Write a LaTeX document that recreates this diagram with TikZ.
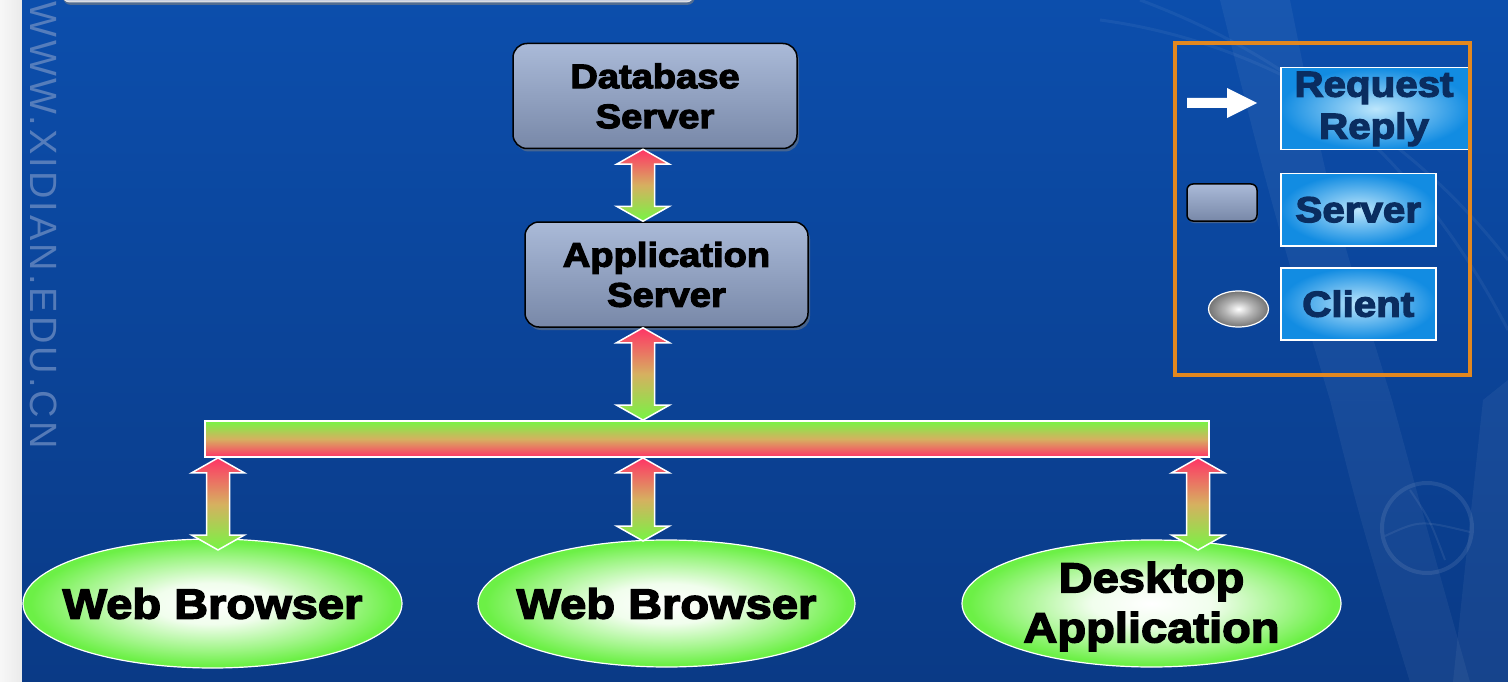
\documentclass[tikz,border=0pt]{standalone}
\usepackage{fontspec}
\setmainfont{Liberation Sans}
\newfontfamily\heavy{Liberation Sans Bold}[FakeBold=3.5,FakeStretch=1.12]
\usetikzlibrary{shapes.geometric,shadows,calc}

\definecolor{bgtop}{RGB}{12,78,172}
\definecolor{bgbot}{RGB}{10,58,134}
\definecolor{srvtop}{RGB}{170,186,216}
\definecolor{srvbot}{RGB}{120,136,168}
\definecolor{arrred}{RGB}{255,52,102}
\definecolor{arrgrn}{RGB}{118,245,68}
\definecolor{busmid}{RGB}{214,176,96}
\definecolor{cligreen}{RGB}{108,240,70}
\definecolor{legblue}{RGB}{18,140,226}
\definecolor{leglight}{RGB}{188,230,252}
\definecolor{legtext}{RGB}{10,45,96}
\definecolor{legorange}{RGB}{226,136,32}
\definecolor{wmark}{RGB}{110,142,195}
\definecolor{tabfill}{RGB}{200,208,226}

\pgfdeclareradialshading{clientglow}{\pgfpoint{0bp}{0bp}}{%
  color(0bp)=(white); color(8bp)=(white!90!cligreen);
  color(18bp)=(cligreen!65!white); color(24bp)=(cligreen); color(50bp)=(cligreen)}
\pgfdeclareradialshading{clientgray}{\pgfpoint{0bp}{0bp}}{%
  color(0bp)=(white); color(12bp)=(gray!60); color(25bp)=(gray!90!black); color(50bp)=(gray!90!black)}

\tikzset{
  server/.style={draw=black, line width=1.5pt, rounded corners=14pt,
    top color=srvtop, bottom color=srvbot,
    drop shadow={opacity=0.5, shadow xshift=2pt, shadow yshift=-3pt},
    inner sep=0pt, align=center, font=\heavy\fontsize{34}{40}\selectfont},
  client/.style={ellipse, draw=white, line width=1.2pt, shade, shading=clientglow, inner sep=0pt},
  clientlabel/.style={align=center, font=\heavy\fontsize{42}{50}\selectfont},
  busbar/.style={draw=white, line width=1.8pt, top color=arrgrn, bottom color=arrred,
    middle color=busmid, inner sep=0pt},
  linkarrow/.style={draw=white, line width=1.5pt, top color=arrred, bottom color=arrgrn,
    middle color=busmid},
  legendbox/.style={draw=white, line width=1.5pt, inner color=leglight, outer color=legblue,
    inner sep=0pt},
  legendtext/.style={text=legtext, align=center, font=\heavy\fontsize{36}{42}\selectfont},
  swoosh/.style={draw=white, opacity=0.05, line width=#1},
}

% double-headed connector between two points on a vertical line
\newcommand\linkarrow[2]{%
  \path[linkarrow] let \p1=(#1), \p2=(#2) in
    (\x1,\y1) -- (\x1+26.5pt,\y1-15pt) -- (\x1+11.5pt,\y1-15pt)
    -- (\x1+11.5pt,\y2+15pt) -- (\x1+26.5pt,\y2+15pt) -- (\x1,\y2)
    -- (\x1-26.5pt,\y2+15pt) -- (\x1-11.5pt,\y2+15pt)
    -- (\x1-11.5pt,\y1-15pt) -- (\x1-26.5pt,\y1-15pt) -- cycle;}

\begin{document}
\begin{tikzpicture}[x=1pt,y=-1pt]
\useasboundingbox (0,0) rectangle (1508,682);

% slide background
\fill[left color=gray!6, right color=gray!16] (0,0) rectangle (22,682);
\fill[top color=bgtop, bottom color=bgbot] (22,0) rectangle (1508,682);

% faint background ornaments
\fill[white, opacity=0.05] (1330,400) .. controls (1360,520) .. (1410,682) -- (1470,682)
  .. controls (1430,540) .. (1392,400) -- cycle;
\fill[white, opacity=0.05] (1290,0) .. controls (1330,200) .. (1392,400) -- (1330,400)
  .. controls (1270,200) .. (1220,0) -- cycle;
\fill[white, opacity=0.05] (1483,400) .. controls (1470,520) .. (1453,682) -- (1508,682)
  -- (1508,380) -- cycle;
\draw[swoosh=3pt] (1100,20) .. controls (1250,40) and (1400,120) .. (1508,260);
\draw[swoosh=3pt] (1140,0) .. controls (1300,60) and (1420,160) .. (1508,330);
\draw[white, opacity=0.09, line width=4pt] (1427,528) circle (45);
\draw[white, opacity=0.07, line width=2pt] (1385,536) .. controls (1420,520) .. (1470,532);
\draw[white, opacity=0.07, line width=2pt] (1410,490) .. controls (1430,520) .. (1445,560);

% title tab edge
\draw[draw=white!80!gray, line width=1pt, fill=tabfill, rounded corners=8pt,
  drop shadow={opacity=0.6, shadow xshift=1pt, shadow yshift=-3pt}] (62,-30) rectangle (694,2);

% vertical watermark
\node[rotate=-90, anchor=west, text=wmark, opacity=0.75, inner sep=0pt,
  font=\fontsize{38}{38}\selectfont\addfontfeature{LetterSpace=8}] (wm) at (44,1) {WWW.XIDIAN.EDU.CN};

% servers
\node[server, minimum width=284pt, minimum height=105pt] (db) at (655,96) {Database\\Server};
\node[server, minimum width=283pt, minimum height=105pt] (app) at (666.5,274.5) {Application\\Server};

% shared bus
\node[busbar, minimum width=1004pt, minimum height=36pt] (bus) at (707,439) {};

% clients
\node[client, minimum width=379pt, minimum height=129pt] (wb1) at (212.5,603.5) {};
\node[clientlabel] (wb1t) at (wb1) {Web Browser};
\node[client, minimum width=377pt, minimum height=127pt] (wb2) at (666.5,603.5) {};
\node[clientlabel] (wb2t) at (wb2) {Web Browser};
\node[client, minimum width=379pt, minimum height=127pt] (da) at (1151.5,603.5) {};
\node[clientlabel] (dat) at ($(da)+(0,3)$) {Desktop\\Application};

% connector anchors
\coordinate (spine) at (643,0);
\coordinate (tap1) at (218,550);
\coordinate (tap2) at (643,541);
\coordinate (tap3) at (1198,550);

% request/reply connectors
\linkarrow{db.south -| spine}{app.north -| spine}
\linkarrow{app.south -| spine}{bus.north -| spine}
\linkarrow{bus.south -| tap1}{tap1}
\linkarrow{bus.south -| tap2}{tap2}
\linkarrow{bus.south -| tap3}{tap3}

% legend
\node[legendbox, anchor=north west, minimum width=190pt, minimum height=82pt] (lreq) at (1280,67) {};
\node[legendtext] (lreqt) at (1374,109) {Request\\Reply};
\node[legendbox, anchor=north west, minimum width=155pt, minimum height=72pt] (lsrv) at (1280,173) {};
\node[legendtext] (lsrvt) at (lsrv) {Server};
\node[legendbox, anchor=north west, minimum width=155pt, minimum height=72pt] (lcli) at (1280,267) {};
\node[legendtext] (lclit) at (lcli) {Client};

\fill[white] (1187,98) -- (1227,98) -- (1227,88) -- (1257,103) -- (1227,118)
  -- (1227,108) -- (1187,108) -- cycle;
\node[draw=black, line width=1.5pt, rounded corners=6pt, top color=srvtop, bottom color=srvbot,
  drop shadow={opacity=0.5, shadow xshift=1pt, shadow yshift=-2pt},
  minimum width=70pt, minimum height=37pt, inner sep=0pt] (isrv) at (1222,202.5) {};
\node[ellipse, draw=white, line width=1.2pt, shade, shading=clientgray,
  minimum width=60pt, minimum height=36pt, inner sep=0pt] (icli) at (1238.5,309) {};

\draw[draw=legorange, line width=4pt] (1175,43) rectangle (1470,375);
\end{tikzpicture}
\end{document}
